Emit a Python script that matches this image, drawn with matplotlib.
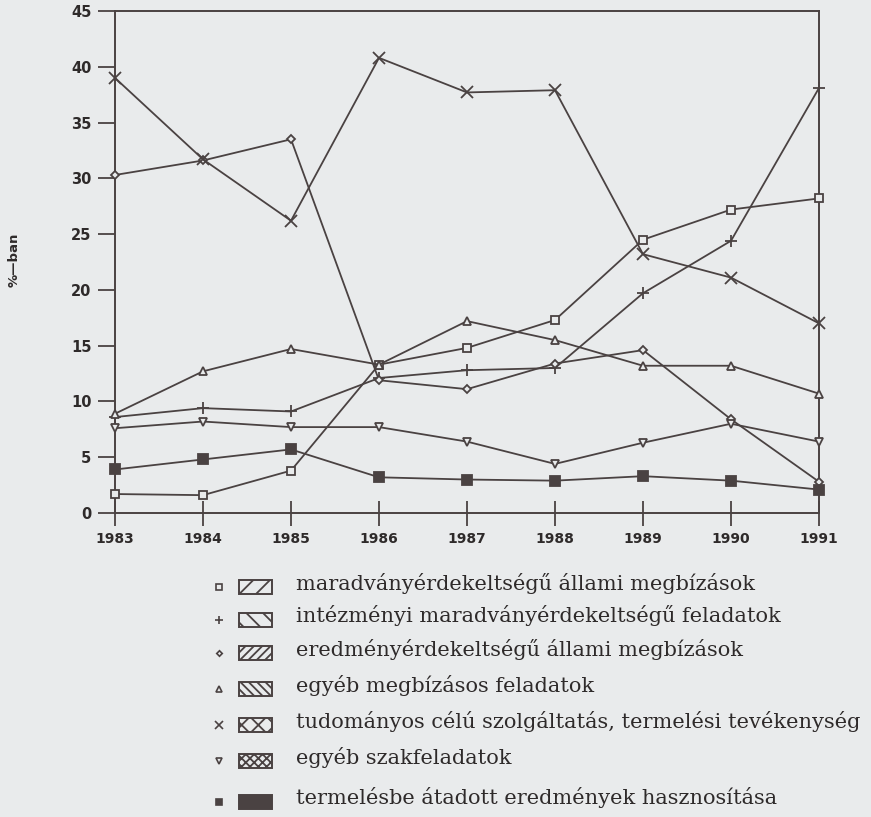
import matplotlib
matplotlib.use('agg')
import matplotlib.pyplot as plt
from matplotlib.patches import Rectangle
from matplotlib.lines import Line2D

# years on the x axis
years = [1983, 1984, 1985, 1986, 1987, 1988, 1989, 1990, 1991]

# shares in percent, one list per task type
maradvany_allami = [1.7, 1.6, 3.8, 13.3, 14.8, 17.3, 24.5, 27.2, 28.2]
intezmenyi = [8.6, 9.4, 9.1, 12.1, 12.8, 13.0, 19.7, 24.4, 38.1]
eredmeny_allami = [30.3, 31.6, 33.5, 11.9, 11.1, 13.4, 14.6, 8.4, 2.8]
egyeb_megbizasos = [8.9, 12.7, 14.7, 13.3, 17.2, 15.5, 13.2, 13.2, 10.7]
tudomanyos = [39.0, 31.7, 26.2, 40.8, 37.7, 37.9, 23.2, 21.1, 17.0]
egyeb_szak = [7.6, 8.2, 7.7, 7.7, 6.4, 4.4, 6.3, 8.0, 6.4]
termelesbe = [3.9, 4.8, 5.7, 3.2, 3.0, 2.9, 3.3, 2.9, 2.1]

labels = [
    'maradványérdekeltségű állami megbízások',
    'intézményi maradványérdekeltségű feladatok',
    'eredményérdekeltségű állami megbízások',
    'egyéb megbízásos feladatok',
    'tudományos célú szolgáltatás, termelési tevékenység',
    'egyéb szakfeladatok',
    'termelésbe átadott eredmények hasznosítása',
]
yticks = [0, 5, 10, 15, 20, 25, 30, 35, 40, 45]

paper = '#e9ebec'
ink = '#4a4242'

series = [maradvany_allami, intezmenyi, eredmeny_allami, egyeb_megbizasos,
          tudomanyos, egyeb_szak, termelesbe]
# (marker, size, filled) for each series
styles = [('s', 6, False), ('+', 8, True), ('D', 4, False), ('^', 6, False),
          ('x', 8, True), ('v', 6, False), ('s', 6.5, True)]
hatches = ['//', '\\\\', '////', '\\\\\\\\', 'xx', 'xxxx', None]

plt.rcParams['hatch.color'] = ink
plt.rcParams['hatch.linewidth'] = 1.3

fig = plt.figure(figsize=(8.71, 8.17), dpi=100, facecolor=paper)
ax = fig.add_axes([115 / 871, 1 - 513 / 817, 704 / 871, 502 / 817])
ax.set_facecolor(paper)

for vals, (mk, ms, filled) in zip(series, styles):
    ax.plot(years, vals, color=ink, linewidth=1.3, marker=mk, markersize=ms,
            markeredgewidth=1.3, markeredgecolor=ink,
            markerfacecolor=ink if filled else paper, zorder=3,
            clip_on=False)

ax.set_xlim(1983, 1991)
ax.set_ylim(0, 45)
ax.set_xticks(years)
ax.set_yticks(yticks)
for sp in ax.spines.values():
    sp.set_color(ink)
    sp.set_linewidth(1.4)
ax.tick_params(axis='y', direction='out', length=12, width=1.3, color=ink,
               pad=5, labelsize=10.5, labelcolor='#2e2a2a')
ax.tick_params(axis='x', direction='inout', length=18, width=1.3, color=ink,
               pad=5, labelsize=10, labelcolor='#2e2a2a')
for t in ax.get_xticklabels() + ax.get_yticklabels():
    t.set_fontweight('bold')

fig.text(14 / 871, 1 - 260 / 817, '%—ban', rotation=90, ha='center',
         va='center', fontsize=9.5, fontweight='bold', color='#2e2a2a')

# legend drawn below the plot in pixel coordinates
leg = fig.add_axes([0, 0, 1, 1])
leg.set_xlim(0, 871)
leg.set_ylim(817, 0)
leg.axis('off')
rows = [587, 620, 653, 689, 725, 761, 802]
for y, lab, (mk, ms, filled), h in zip(rows, labels, styles, hatches):
    leg.add_line(Line2D([219], [y], marker=mk, markersize=ms * 0.7,
                        markeredgewidth=1.2, markeredgecolor=ink,
                        markerfacecolor=ink if filled else paper,
                        linestyle='none'))
    leg.add_patch(Rectangle((239, y - 7), 33, 14,
                            facecolor=ink if h is None else paper,
                            edgecolor=ink, hatch=h, linewidth=1.4))
    leg.text(296, y - 4, lab, fontsize=15, family='DejaVu Serif',
             color='#2e2a2a', va='center', ha='left')

fig.savefig('out.png', dpi=100, facecolor=paper)
